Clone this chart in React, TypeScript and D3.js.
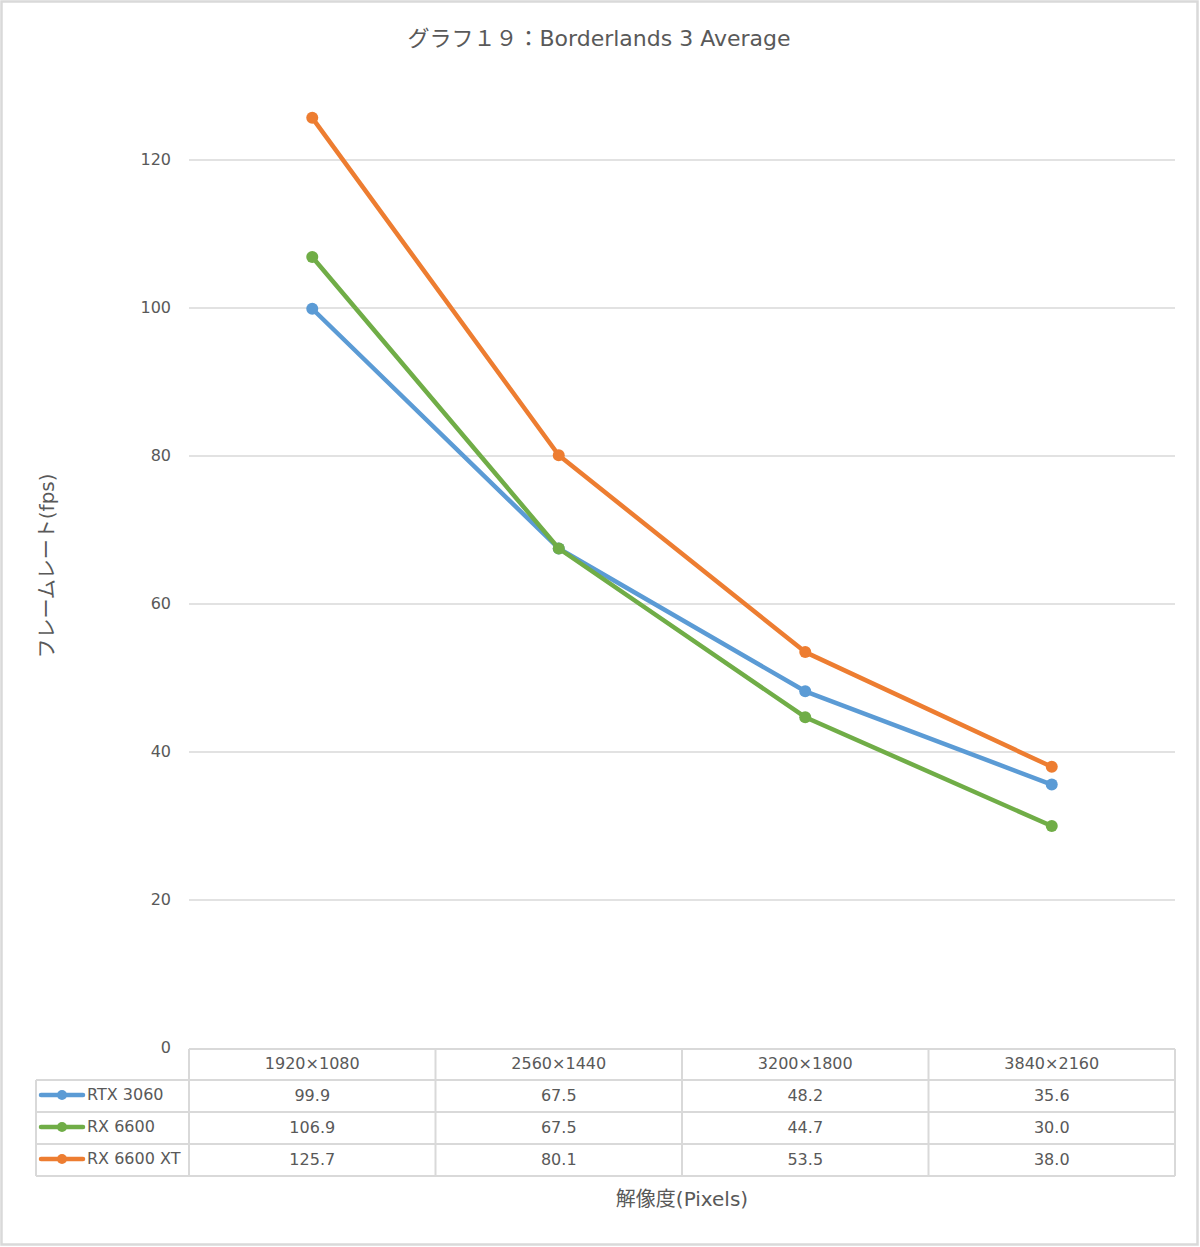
import React from "react";
import * as d3 from "d3";

const categories = ["1920×1080", "2560×1440", "3200×1800", "3840×2160"];
const seriesNames = ["RTX 3060", "RX 6600", "RX 6600 XT"];
const rtx3060 = [99.9, 67.5, 48.2, 35.6];
const rx6600 = [106.9, 67.5, 44.7, 30.0];
const rx6600xt = [125.7, 80.1, 53.5, 38.0];
const seriesColors = ["#5B9BD5", "#70AD47", "#ED7D31"];
const yTicks = [0, 20, 40, 60, 80, 100, 120];
const title = "グラフ１９：Borderlands 3 Average";
const yTitle = "フレームレート(fps)";
const xTitle = "解像度(Pixels)";

const W = 1200;
const H = 1247;
const FONT = "'DejaVu Sans', 'Noto Sans CJK JP', sans-serif";
const TXT = "#595959";

export default function App() {
  const series = [rtx3060, rx6600, rx6600xt];
  const x = d3.scaleBand<string>().domain(categories).range([189, 1175]);
  const y = d3.scaleLinear().domain([0, 120]).range([1048, 160]);
  const line = d3
    .line<number>()
    .x((_, i) => (x(categories[i]) as number) + x.bandwidth() / 2)
    .y((d) => y(d));

  const tableTop = y(0) + 1;
  const rowH = 32;
  const legendLeft = 36;
  const gridColor = "#d9d9d9";

  return (
    <svg
      width={W}
      height={H}
      style={{ position: "absolute", left: 0, top: 0, background: "#fff" }}
      fontFamily={FONT}
    >
      <rect x={0} y={0} width={W} height={H} fill="#fff" />
      <rect x={1.5} y={1.5} width={W - 4} height={H - 4} fill="none" stroke={gridColor} strokeWidth={2.5} />

      <text x={599} y={46} textAnchor="middle" fontSize={22} fill={TXT}>
        {title}
      </text>

      {yTicks.map((t) => (
        <g key={t}>
          {t > 0 && (
            <line x1={189} x2={1175} y1={y(t)} y2={y(t)} stroke={gridColor} strokeWidth={1.5} />
          )}
          <text x={171} y={y(t) + 5} textAnchor="end" fontSize={16} fill={TXT}>
            {t}
          </text>
        </g>
      ))}

      <text
        transform={`translate(${54},${566}) rotate(-90)`}
        textAnchor="middle"
        fontSize={20}
        fill={TXT}
      >
        {yTitle}
      </text>

      {series.map((s, si) => (
        <g key={si}>
          <path d={line(s) as string} fill="none" stroke={seriesColors[si]} strokeWidth={4.5} strokeLinejoin="round" />
          {s.map((v, i) => (
            <circle
              key={i}
              cx={(x(categories[i]) as number) + x.bandwidth() / 2}
              cy={y(v)}
              r={6}
              fill={seriesColors[si]}
            />
          ))}
        </g>
      ))}

      {/* data table */}
      <g stroke={gridColor} strokeWidth={2} fill="none">
        <line x1={189} x2={1175} y1={tableTop} y2={tableTop} />
        {[1, 2, 3].map((r) => (
          <line key={r} x1={legendLeft} x2={1175} y1={tableTop + r * rowH - 1} y2={tableTop + r * rowH - 1} />
        ))}
        <line x1={legendLeft} x2={1175} y1={tableTop + 4 * rowH - 1} y2={tableTop + 4 * rowH - 1} />
        <line x1={legendLeft} x2={legendLeft} y1={tableTop + rowH - 1} y2={tableTop + 4 * rowH - 1} />
        {[0, 1, 2, 3].map((i) => (
          <line
            key={i}
            x1={x(categories[i]) as number}
            x2={x(categories[i]) as number}
            y1={tableTop}
            y2={tableTop + 4 * rowH - 1}
          />
        ))}
        <line x1={1175} x2={1175} y1={tableTop} y2={tableTop + 4 * rowH - 1} />
      </g>

      {categories.map((c) => (
        <text
          key={c}
          x={(x(c) as number) + x.bandwidth() / 2}
          y={tableTop + 20}
          textAnchor="middle"
          fontSize={16}
          fill={TXT}
        >
          {c}
        </text>
      ))}

      {series.map((s, si) => {
        const cy = tableTop + (si + 1) * rowH + rowH / 2 - 2;
        return (
          <g key={si}>
            <line x1={41} x2={83} y1={cy} y2={cy} stroke={seriesColors[si]} strokeWidth={4.5} strokeLinecap="round" />
            <circle cx={62} cy={cy} r={5} fill={seriesColors[si]} />
            <text x={87} y={cy + 5} fontSize={16} fill={TXT}>
              {seriesNames[si]}
            </text>
            {s.map((v, i) => (
              <text
                key={i}
                x={(x(categories[i]) as number) + x.bandwidth() / 2}
                y={cy + 6}
                textAnchor="middle"
                fontSize={16}
                fill={TXT}
              >
                {d3.format(".1f")(v)}
              </text>
            ))}
          </g>
        );
      })}

      <text x={682} y={1206} textAnchor="middle" fontSize={20} fill={TXT}>
        {xTitle}
      </text>
    </svg>
  );
}
